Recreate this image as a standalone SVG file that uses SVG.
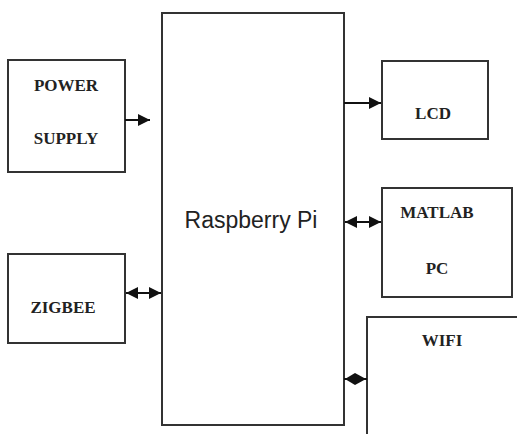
<svg xmlns="http://www.w3.org/2000/svg" width="517" height="434" viewBox="0 0 517 434">
<style>
.box{fill:#fff;stroke:#333;stroke-width:2}
.lbl{font-family:"Liberation Serif","Times New Roman",serif;font-weight:bold;font-size:17px;fill:#222;text-anchor:middle}
.main{font-family:"Liberation Sans",Arial,sans-serif;font-size:23px;fill:#222;text-anchor:middle}
.con{stroke:#111;stroke-width:2;fill:none}
</style>
<defs>
<marker id="ah2" viewBox="0 0 10 10" refX="10" refY="5" markerWidth="12" markerHeight="12" orient="auto-start-reverse" markerUnits="userSpaceOnUse">
<path d="M0,0 L10,5 L0,10 z" fill="#111"/>
</marker>
</defs>
<rect width="517" height="434" fill="#fff"/>
<g id="raspberry">
<rect class="box" x="162" y="13" width="182" height="412"/>
<text class="main" x="251" y="228">Raspberry Pi</text>
</g>
<g id="power">
<rect class="box" x="8" y="60" width="117" height="112"/>
<text class="lbl" x="66" y="91">POWER</text>
<text class="lbl" x="66" y="144">SUPPLY</text>
</g>
<g id="zigbee">
<rect class="box" x="8" y="254" width="117" height="89"/>
<text class="lbl" x="63" y="313">ZIGBEE</text>
</g>
<g id="lcd">
<rect class="box" x="382" y="61" width="106" height="78"/>
<text class="lbl" x="433" y="119">LCD</text>
</g>
<g id="matlab">
<rect class="box" x="382" y="188" width="130" height="109"/>
<text class="lbl" x="437" y="218">MATLAB</text>
<text class="lbl" x="437" y="274">PC</text>
</g>
<g id="wifi">
<rect class="box" x="367" y="317" width="152" height="122"/>
<text class="lbl" x="442" y="346">WIFI</text>
</g>
<g id="connectors">
<line class="con" x1="125" y1="120" x2="150" y2="120" marker-end="url(#ah2)"/>
<line class="con" x1="126" y1="293" x2="161" y2="293" marker-start="url(#ah2)" marker-end="url(#ah2)"/>
<line class="con" x1="344" y1="103" x2="381" y2="103" marker-end="url(#ah2)"/>
<line class="con" x1="345" y1="222" x2="381" y2="222" marker-start="url(#ah2)" marker-end="url(#ah2)"/>
<line class="con" x1="344" y1="379" x2="367" y2="379"/>
<path d="M345,379 L355,373 L366,379 L355,385 z" fill="#111"/>
</g>
</svg>
